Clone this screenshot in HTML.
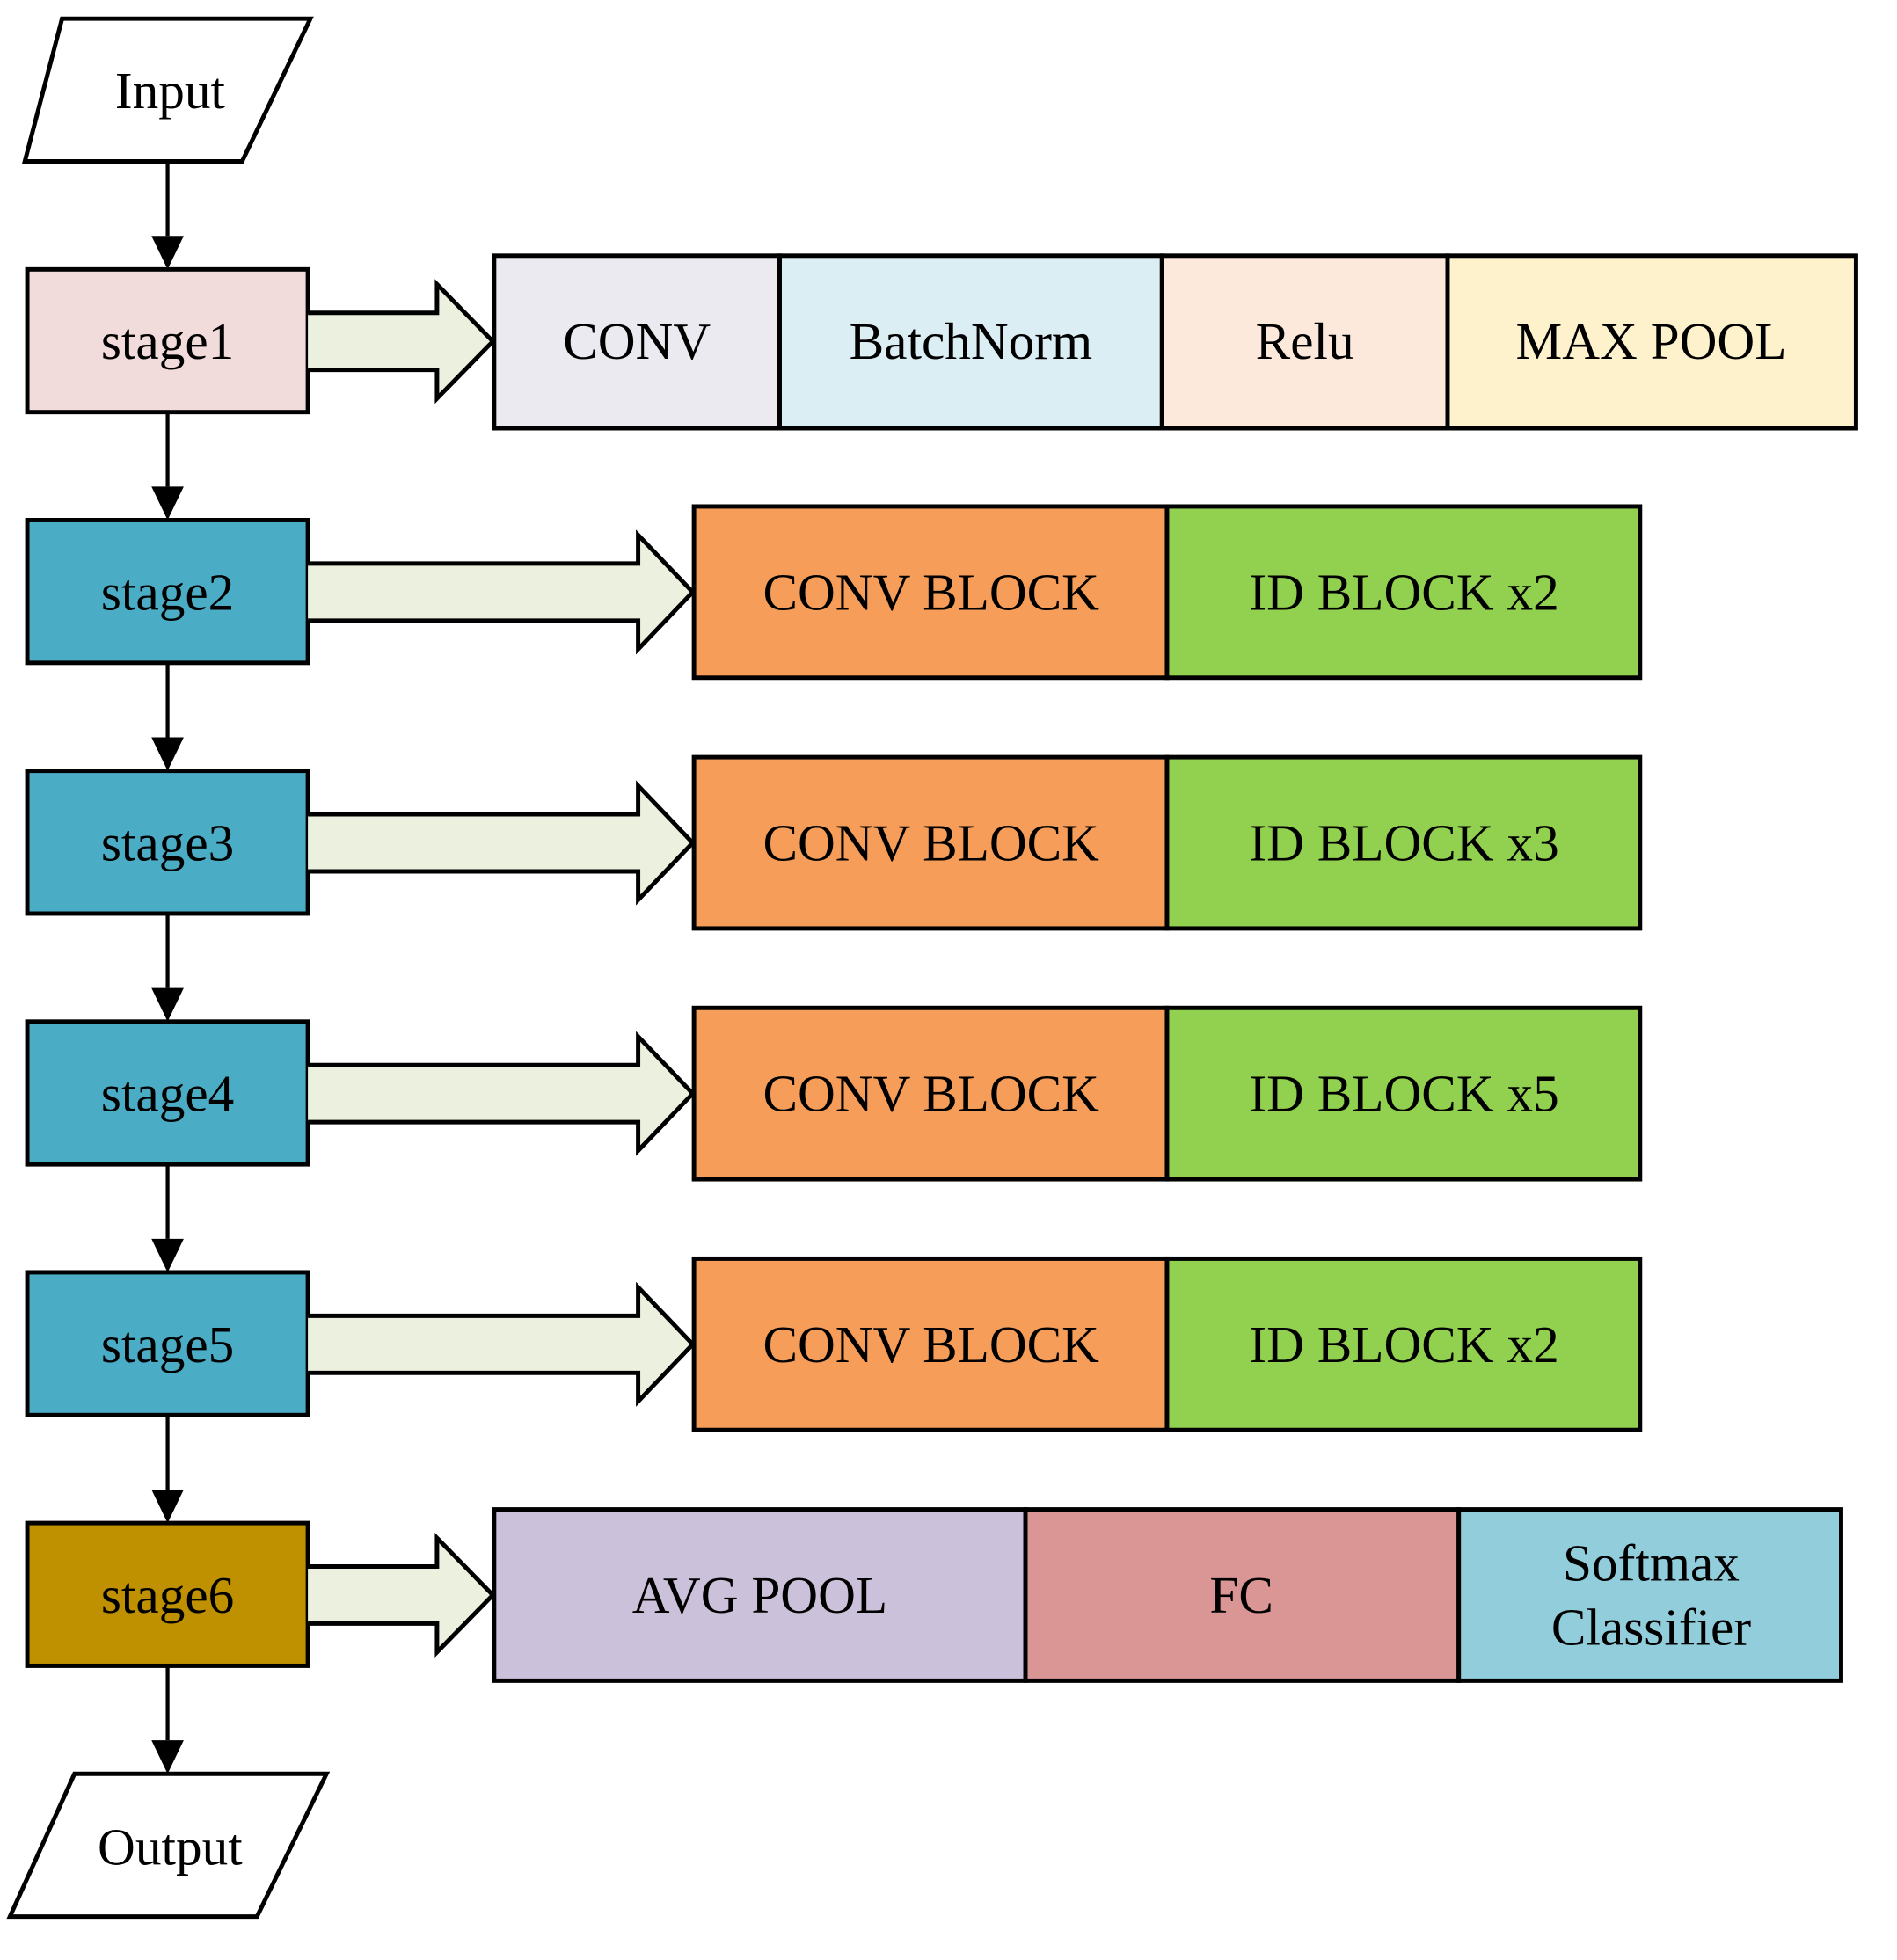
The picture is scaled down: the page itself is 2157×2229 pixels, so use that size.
<!DOCTYPE html>
<html><head><meta charset="utf-8"><style>html,body{margin:0;padding:0;background:#fff}svg{display:block}</style></head>
<body>
<svg width="2157" height="2229" viewBox="0 0 1528 1579" preserveAspectRatio="none" xmlns="http://www.w3.org/2000/svg" font-family="Liberation Serif, serif" font-size="42" text-anchor="middle" dominant-baseline="central">
<g stroke="#000" stroke-width="3.5" stroke-linejoin="miter">
<polygon points="50,15 250,15 195,130 20,130" fill="#fff"/>
<polygon points="60,1429 263,1429 207,1544 8,1544" fill="#fff"/>
<rect x="22" y="217" width="226" height="115" fill="#F2DCDB"/>
<rect x="22" y="419" width="226" height="115" fill="#4BACC6"/>
<rect x="22" y="621" width="226" height="115" fill="#4BACC6"/>
<rect x="22" y="823" width="226" height="115" fill="#4BACC6"/>
<rect x="22" y="1025" width="226" height="115" fill="#4BACC6"/>
<rect x="22" y="1227" width="226" height="115" fill="#BF9000"/>
</g>
<g stroke="#000" stroke-width="3">
<line x1="135" y1="130" x2="135" y2="190"/>
<line x1="135" y1="332" x2="135" y2="392"/>
<line x1="135" y1="534" x2="135" y2="594"/>
<line x1="135" y1="736" x2="135" y2="796"/>
<line x1="135" y1="938" x2="135" y2="998"/>
<line x1="135" y1="1140" x2="135" y2="1200"/>
<line x1="135" y1="1342" x2="135" y2="1402"/>
</g>
<g fill="#000">
<path d="M122,190 L148,190 L135,217 Z"/>
<path d="M122,392 L148,392 L135,419 Z"/>
<path d="M122,594 L148,594 L135,621 Z"/>
<path d="M122,796 L148,796 L135,823 Z"/>
<path d="M122,998 L148,998 L135,1025 Z"/>
<path d="M122,1200 L148,1200 L135,1227 Z"/>
<path d="M122,1402 L148,1402 L135,1429 Z"/>
</g>
<g stroke="#000" stroke-width="3.5" fill="#EBF1DE">
<path d="M248,252 L352,252 L352,229 L397,275 L352,321 L352,298 L248,298"/>
<path d="M248,454 L514,454 L514,431 L558,477 L514,523 L514,500 L248,500"/>
<path d="M248,656 L514,656 L514,633 L558,679 L514,725 L514,702 L248,702"/>
<path d="M248,858 L514,858 L514,835 L558,881 L514,927 L514,904 L248,904"/>
<path d="M248,1060 L514,1060 L514,1037 L558,1083 L514,1129 L514,1106 L248,1106"/>
<path d="M248,1262 L352,1262 L352,1239 L397,1285 L352,1331 L352,1308 L248,1308"/>
</g>
<g stroke="#000" stroke-width="3.5">
<rect x="398" y="206" width="230" height="139" fill="#ECEAF1"/>
<rect x="628" y="206" width="308" height="139" fill="#DAEEF3"/>
<rect x="936" y="206" width="230" height="139" fill="#FCE9DB"/>
<rect x="1166" y="206" width="329" height="139" fill="#FEF2CC"/>
<rect x="559" y="408" width="381" height="138" fill="#F59D59"/><rect x="940" y="408" width="381" height="138" fill="#92D050"/>
<rect x="559" y="610" width="381" height="138" fill="#F59D59"/><rect x="940" y="610" width="381" height="138" fill="#92D050"/>
<rect x="559" y="812" width="381" height="138" fill="#F59D59"/><rect x="940" y="812" width="381" height="138" fill="#92D050"/>
<rect x="559" y="1014" width="381" height="138" fill="#F59D59"/><rect x="940" y="1014" width="381" height="138" fill="#92D050"/>
<rect x="398" y="1216" width="428" height="138" fill="#CCC1DA"/>
<rect x="826" y="1216" width="349" height="138" fill="#D99694"/>
<rect x="1175" y="1216" width="308" height="138" fill="#92CDDC"/>
</g>
<g fill="#000">
<text x="137" y="73">Input</text>
<text x="137" y="1488">Output</text>
<text x="135" y="275">stage1</text>
<text x="135" y="477">stage2</text>
<text x="135" y="679">stage3</text>
<text x="135" y="881">stage4</text>
<text x="135" y="1083">stage5</text>
<text x="135" y="1285">stage6</text>
<text x="513" y="275">CONV</text>
<text x="782" y="275">BatchNorm</text>
<text x="1051" y="275">Relu</text>
<text x="1330" y="275">MAX POOL</text>
<text x="750" y="477">CONV BLOCK</text><text x="1131" y="477">ID BLOCK x2</text>
<text x="750" y="679">CONV BLOCK</text><text x="1131" y="679">ID BLOCK x3</text>
<text x="750" y="881">CONV BLOCK</text><text x="1131" y="881">ID BLOCK x5</text>
<text x="750" y="1083">CONV BLOCK</text><text x="1131" y="1083">ID BLOCK x2</text>
<text x="612" y="1285">AVG POOL</text>
<text x="1000" y="1285">FC</text>
<text x="1330" y="1259">Softmax</text>
<text x="1330" y="1311">Classifier</text>
</g>
</svg>
</body></html>
